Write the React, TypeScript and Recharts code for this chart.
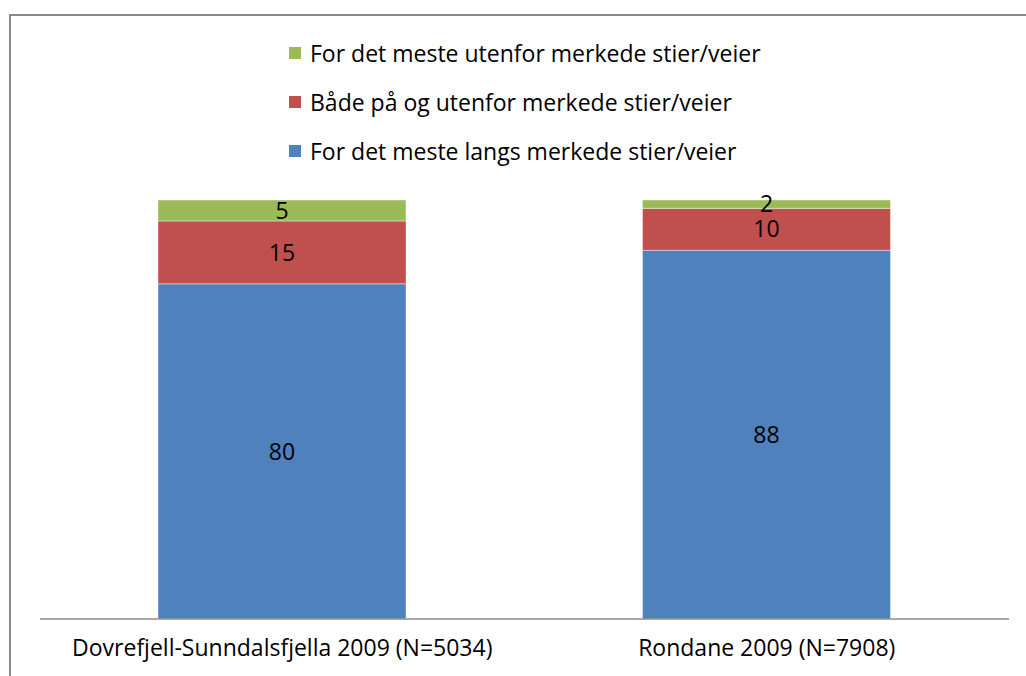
import React from 'react';
import { BarChart, Bar, XAxis, YAxis, LabelList } from 'recharts';

const categories = ['Dovrefjell-Sunndalsfjella 2009 (N=5034)', 'Rondane 2009 (N=7908)'];
const langs = [80, 88];
const baade = [15, 10];
const utenfor = [5, 2];

const seriesKeys = ['langs', 'baade', 'utenfor'];
const seriesNames = [
  'For det meste langs merkede stier/veier',
  'Både på og utenfor merkede stier/veier',
  'For det meste utenfor merkede stier/veier',
];
const colors = ['#4F81BD', '#C0504D', '#9BBB59'];

const data = categories.map((name, i) => ({
  name,
  langs: langs[i],
  baade: baade[i],
  utenfor: utenfor[i],
}));

const FONT = '"Open Sans", "Noto Sans", sans-serif';
const FS = 23;

// legend in reverse stack order, top item = top segment
const LegendBox = () => (
  <div style={{ position: 'absolute', left: 289, top: 28, display: 'flex', flexDirection: 'column' }}>
    {[2, 1, 0].map((i) => (
      <div key={i} style={{ display: 'flex', alignItems: 'center', height: 49, fontFamily: FONT, fontSize: FS, color: '#000' }}>
        <span style={{ width: 12, height: 12, background: colors[i], marginRight: 9, display: 'inline-block' }} />
        {seriesNames[i]}
      </div>
    ))}
  </div>
);

export default function App() {
  return (
    <div style={{ position: 'absolute', left: 0, top: 0, width: 1026, height: 676, background: '#fff', overflow: 'hidden' }}>
      <div style={{ position: 'absolute', left: 9, top: 14, width: 1030, height: 700, borderTop: '2px solid #898989', borderLeft: '2px solid #898989' }} />
      <div style={{ position: 'absolute', left: 0, top: 0 }}>
        <BarChart width={1026} height={676} data={data} margin={{ top: 200, right: 17, left: 40, bottom: 27 }} barSize={248}>
          <XAxis
            dataKey="name"
            axisLine={{ stroke: '#8c8c8c', strokeWidth: 1.5 }}
            tickLine={false}
            tick={{ fontSize: FS, fill: '#000', fontFamily: FONT }}
            dy={13}
          />
          <YAxis hide domain={[0, 100]} />
          {seriesKeys.map((k, i) => (
            <Bar key={k} dataKey={k} name={seriesNames[i]} stackId="a" fill={colors[i]} stroke="#ffffff" strokeOpacity={0.4} isAnimationActive={false}>
              <LabelList dataKey={k} position="center" fill="#000" fontSize={FS} fontFamily={FONT} />
            </Bar>
          ))}
        </BarChart>
      </div>
      <LegendBox />
    </div>
  );
}
